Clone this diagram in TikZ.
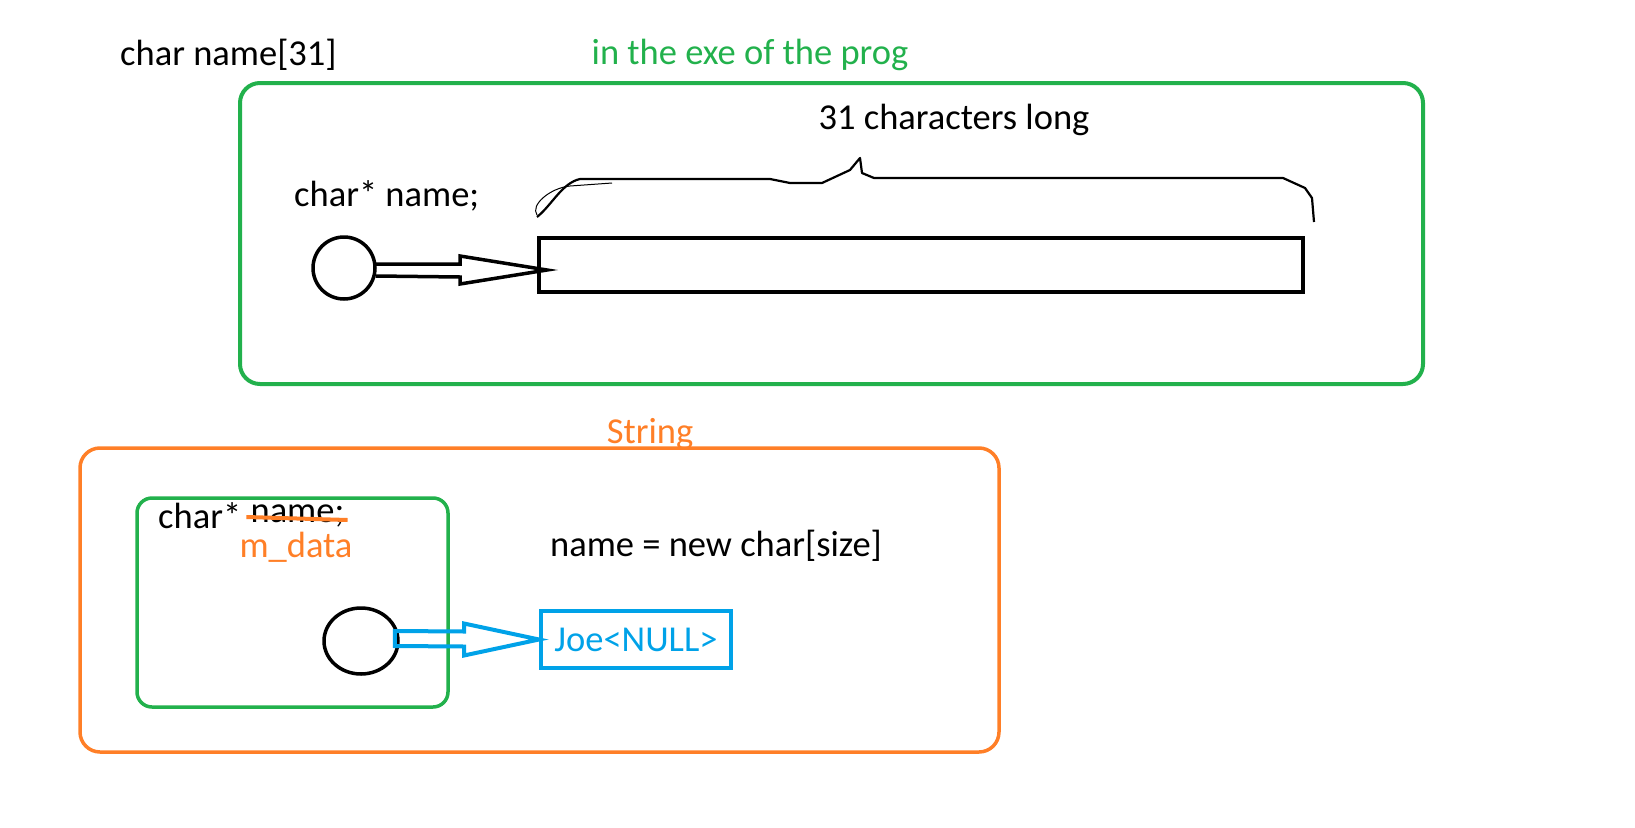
\documentclass[tikz,border=0pt]{standalone}
\usepackage{fontspec}
\setmainfont{Carlito}
\usetikzlibrary{calc,shapes.geometric}

\definecolor{paintgreen}{RGB}{34,177,76}
\definecolor{paintorange}{RGB}{255,127,39}
\definecolor{paintblue}{RGB}{0,162,232}

\begin{document}
\begin{tikzpicture}[x=1pt,y=-1pt,
  lbl/.style={inner sep=0pt,font=\fontsize{36.5}{44}\selectfont},
  frame/.style={draw=#1,line width=4pt,rounded corners=20pt,inner sep=0pt},
  ptr/.style={draw,ellipse,line width=3.5pt,inner sep=0pt},
  hollow/.style={line width=3.5pt,line join=miter}]
 \useasboundingbox (0,0) rectangle (1635,827);
 % top part: fixed array
 \node[lbl,anchor=west] (decl) at (120,55) {char name[31]};
 \node[lbl,text=paintgreen] (exelbl) at (750,55) {in the exe of the prog};
 \node[frame=paintgreen,minimum width=1183,minimum height=301] (exe) at (831.5,233.5) {};
 \node[lbl] (lenlbl) at (954,120) {31 characters long};
 \node[lbl,anchor=west] (ptrdecl) at (294,196) {char* name;};
 \node[ptr,minimum width=62,minimum height=62] (ptrA) at (344,268) {};
 \node[draw,line width=4pt,minimum width=764,minimum height=54,inner sep=0pt] (cells) at (921,265) {};
 \coordinate (tipA) at ($(cells.west)+(10,5)$);
 \draw[hollow] ($(ptrA.east)+(-1,-4)$) -- ($(tipA)+(-87,-6)$) -- ($(tipA)+(-87,-14)$) -- (tipA)
   -- ($(tipA)+(-87,14)$) -- ($(tipA)+(-87,7)$) -- ($(ptrA.east)+(-1,8)$);
 % hand drawn brace
 \draw[line width=2.2pt,line join=round] (537,217) .. controls (552,205) and (562,183) .. (580,179)
   -- (770,179) -- (790,183) -- (822,183) -- (850,170) -- (860,158) -- (862,173) -- (874,178)
   -- (1283,178) -- (1305,188) -- (1312,198) -- (1314,222);
 \draw[line width=1pt] (537,215) .. controls (530,205) and (550,188) .. (570,186) -- (612,183);
 % bottom part: String class
 \node[lbl,text=paintorange] (strlbl) at (650,434) {String};
 \node[frame=paintorange,line width=3.5pt,minimum width=919,minimum height=304] (strbox) at (539.5,600) {};
 \node[frame=paintgreen,line width=3.5pt,rounded corners=15pt,minimum width=311,minimum height=209] (member) at (292.5,602.5) {};
 \node[lbl,anchor=west] (mtype) at (158,516) {char*};
 \node[lbl,anchor=west] (oldname) at ($(mtype.east)+(9,0)$) {name;};
 \draw[paintorange,line width=4pt] ($(oldname.west)+(-4,1)$) -- ($(oldname.east)+(3,4)$);
 \node[lbl,text=paintorange] (newname) at (296,547) {m\_data};
 \node[lbl] (alloc) at (716,546) {name = new char[size]};
 \node[ptr,minimum width=74,minimum height=66] (ptrB) at (361,641) {};
 \node[draw=paintblue,line width=4pt,text=paintblue,font=\fontsize{36.5}{44}\selectfont,
   minimum width=190,minimum height=57,inner sep=0pt] (joe) at (636,639.5) {Joe<NULL>};
 \coordinate (tipB) at (joe.west);
 \draw[hollow,draw=paintblue,line width=4pt] ($(ptrB.east)+(-5,-10)$) -- ($(tipB)+(-75,-8)$) -- ($(tipB)+(-75,-16)$)
   -- (tipB) -- ($(tipB)+(-75,16)$) -- ($(tipB)+(-75,7)$) -- ($(ptrB.east)+(-5,5)$) -- cycle;
\end{tikzpicture}
\end{document}
